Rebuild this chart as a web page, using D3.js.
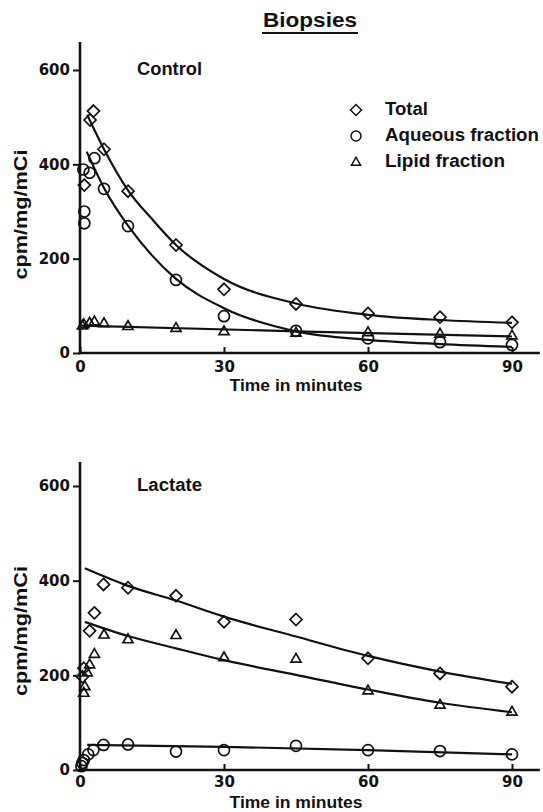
<!DOCTYPE html>
<html>
<head>
<meta charset="utf-8">
<script src="https://cdn.jsdelivr.net/npm/d3@7"></script>
<style>
  body { margin: 0; background: #fff; }
  text { font-family: "Liberation Sans", Arial, sans-serif; font-weight: bold; fill: #111; }
  .tick text { font-family: "DejaVu Sans", sans-serif; font-size: 15px; }
</style>
</head>
<body>
<script>
// time in minutes, cpm/mg/mCi
var xTicks = [0, 30, 60, 90];
var yTicks = [0, 200, 400, 600];
var legendLabels = ['Total', 'Aqueous fraction', 'Lipid fraction'];

// Control
var controlTotal = [[0.9,356],[2.1,494],[2.8,513],[5,432],[10,343],[20,229],[30,135],[45,104],[60,84],[75,76],[90,65]];
var controlAqueous = [[0.7,389],[0.9,300],[0.9,275],[2,382],[3,413],[5,348],[10,269],[20,155],[30,78],[45,47],[60,31],[75,23],[90,17]];
var controlLipid = [[0.5,57],[0.8,60],[2,63],[3,66],[5,62],[10,56],[20,52],[30,45],[45,42],[60,43],[75,40],[90,36]];
var controlTotalFit = [[1.5,505],[5,432],[10,345],[15,284],[20,229],[30,157],[45,105],[60,81],[75,70],[90,64]];
var controlAqueousFit = [[1.4,427],[5,350],[10,270],[15,207],[20,157],[30,95],[45,46],[60,28],[75,19],[90,13]];
var controlLipidFit = [[0,58],[45,46],[90,35]];

// Lactate
var lactateTotal = [[0.5,197],[0.8,215],[2,294],[3,332],[4.9,392],[10,385],[20,368],[30,313],[45,318],[60,236],[75,204],[90,176]];
var lactateAqueous = [[0.3,8],[0.5,15],[0.8,21],[1.7,33],[2.8,42],[4.9,53],[10,54],[20,39],[30,42],[45,51],[60,42],[75,40],[90,33]];
var lactateLipid = [[0.8,162],[1,176],[1.5,205],[2,222],[3,244],[5,285],[10,275],[20,284],[30,237],[45,234],[60,167],[75,137],[90,122]];
var lactateTotalFit = [[1,426],[10,389],[20,358],[30,324],[45,282],[60,241],[75,208],[90,182]];
var lactateAqueousFit = [[1.5,53],[30,49],[60,42],[90,33]];
var lactateLipidFit = [[1,313],[10,283],[20,257],[30,232],[45,201],[60,170],[75,142],[90,122]];

var width = 543, height = 812;

var svg = d3.select('body').append('svg')
  .attr('width', width)
  .attr('height', height);

var x = d3.scaleLinear().domain([0, 90]).range([80, 512]);

// marker shapes
var diamond = function(s){ return 'M0,' + (-s) + 'L' + s + ',0L0,' + s + 'L' + (-s) + ',0Z'; };
var circle = d3.symbol().type(d3.symbolCircle).size(Math.PI * 5.5 * 5.5)();
var triangle = d3.symbol().type(d3.symbolTriangle).size(44)();
var shapes = [diamond(6), circle, triangle];

var panels = [
  { label: 'Control', labelY: 75, top: 70, bottom: 353, axisTop: 42, xlabelY: 391, tickPad: 8,
    points: [controlTotal, controlAqueous, controlLipid],
    fits: [controlTotalFit, controlAqueousFit, controlLipidFit] },
  { label: 'Lactate', labelY: 491, top: 486, bottom: 770, axisTop: 462, xlabelY: 808, tickPad: 6,
    points: [lactateTotal, lactateLipid, lactateAqueous],
    fits: [lactateTotalFit, lactateLipidFit, lactateAqueousFit],
    shapeIdx: [0, 2, 1] }
];

panels.forEach(function(p){
  var y = d3.scaleLinear().domain([0, 600]).range([p.bottom, p.top]);
  var g = svg.append('g');

  var line = d3.line()
    .x(function(d){ return x(d[0]); })
    .y(function(d){ return y(d[1]); })
    .curve(d3.curveMonotoneX);

  // axes
  var ya = g.append('g').attr('transform', 'translate(' + x(0) + ',0)')
    .call(d3.axisLeft(y).tickValues(yTicks).tickSize(7).tickPadding(3).tickSizeOuter(0));
  var xa = g.append('g').attr('transform', 'translate(0,' + y(0) + ')')
    .call(d3.axisBottom(x).tickValues(xTicks).tickSizeInner(-6).tickSizeOuter(0).tickPadding(p.tickPad));
  ya.select('.domain').remove();
  xa.select('.domain').remove();
  g.selectAll('.tick line').attr('stroke', '#111').attr('stroke-width', 2);
  g.selectAll('.tick text').attr('fill', '#111');

  g.append('line')
    .attr('x1', x(0)).attr('x2', x(0))
    .attr('y1', p.axisTop).attr('y2', y(0) + 1.2)
    .attr('stroke', '#111').attr('stroke-width', 2.6);
  g.append('line')
    .attr('x1', x(0) - 1.3).attr('x2', x(95.8))
    .attr('y1', y(0)).attr('y2', y(0))
    .attr('stroke', '#111').attr('stroke-width', 2.6);

  // fitted curves
  p.fits.forEach(function(f){
    g.append('path').datum(f)
      .attr('d', line)
      .attr('fill', 'none')
      .attr('stroke', '#111')
      .attr('stroke-width', 2.2);
  });

  // markers
  p.points.forEach(function(series, i){
    var shape = shapes[p.shapeIdx ? p.shapeIdx[i] : i];
    g.selectAll(null).data(series).enter().append('path')
      .attr('d', shape)
      .attr('transform', function(d){ return 'translate(' + x(d[0]) + ',' + y(d[1]) + ')'; })
      .attr('fill', 'none')
      .attr('stroke', '#111')
      .attr('stroke-width', 1.7);
  });

  // labels
  g.append('text').attr('x', 137).attr('y', p.labelY)
    .attr('font-size', 18).attr('textLength', 65).attr('lengthAdjust', 'spacingAndGlyphs')
    .text(p.label);

  g.append('text')
    .attr('transform', 'translate(27,' + ((p.top + p.bottom) / 2 + 3) + ') rotate(-90)')
    .attr('text-anchor', 'middle')
    .attr('font-size', 19).attr('textLength', 130).attr('lengthAdjust', 'spacingAndGlyphs')
    .text('cpm/mg/mCi');

  g.append('text')
    .attr('x', 296).attr('y', p.xlabelY)
    .attr('text-anchor', 'middle')
    .attr('font-size', 17).attr('textLength', 133).attr('lengthAdjust', 'spacingAndGlyphs')
    .text('Time in minutes');
});

// title
svg.append('text').attr('x', 310).attr('y', 27)
  .attr('text-anchor', 'middle')
  .attr('font-size', 19.5).attr('textLength', 94).attr('lengthAdjust', 'spacingAndGlyphs')
  .text('Biopsies');
svg.append('line')
  .attr('x1', 262).attr('x2', 358).attr('y1', 33).attr('y2', 33)
  .attr('stroke', '#111').attr('stroke-width', 2);

// legend
var legendY = [110, 136, 162.5];
var legendTextY = [115, 140.5, 166.5];
var legendLen = [43, 154, 120];
var legendShapes = [diamond(5.5), d3.symbol().type(d3.symbolCircle).size(Math.PI * 25)(), d3.symbol().type(d3.symbolTriangle).size(36)()];
legendLabels.forEach(function(name, i){
  svg.append('path')
    .attr('d', legendShapes[i])
    .attr('transform', 'translate(356,' + legendY[i] + ')')
    .attr('fill', 'none').attr('stroke', '#111').attr('stroke-width', 1.5);
  svg.append('text')
    .attr('x', 385).attr('y', legendTextY[i])
    .attr('font-size', 18).attr('textLength', legendLen[i]).attr('lengthAdjust', 'spacingAndGlyphs')
    .text(name);
});
</script>
</body>
</html>
